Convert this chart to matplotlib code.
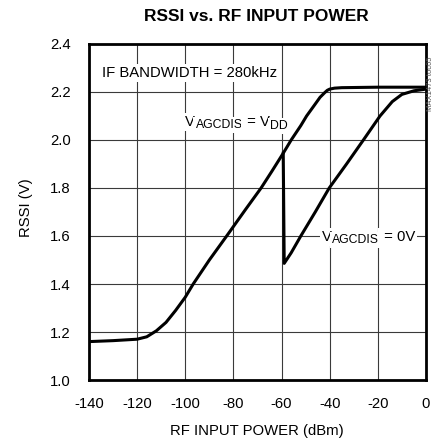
import matplotlib
matplotlib.use('Agg')
import matplotlib.pyplot as plt

# RSSI vs RF input power
# AGC disabled (VAGCDIS = VDD): one continuous curve
vdd_power = [-140, -130, -120, -116, -112, -108, -104, -100, -96.7, -90, -82.8,
             -75, -68.5, -64, -59.3, -56, -52, -49.6, -46, -44, -42, -41, -40, -38, -35, -20, 0]
vdd_rssi = [1.160, 1.164, 1.170, 1.180, 1.205, 1.240, 1.290, 1.345, 1.400, 1.500, 1.600,
            1.710, 1.800, 1.870, 1.945, 2.000, 2.060, 2.100, 2.150, 2.178, 2.198, 2.207, 2.212,
            2.216, 2.218, 2.220, 2.220]

# AGC enabled (VAGCDIS = 0V): follows the curve above up to -60dBm, then drops
agc_power = [-59.3, -58.9, -56, -52, -46, -40.2, -33, -26, -19.1, -14, -10, -5, 0]
agc_rssi = [1.945, 1.486, 1.530, 1.600, 1.700, 1.800, 1.900, 2.000, 2.100, 2.160, 2.190, 2.205, 2.212]

x_ticks = [-140, -120, -100, -80, -60, -40, -20, 0]
y_ticks = [1.0, 1.2, 1.4, 1.6, 1.8, 2.0, 2.2, 2.4]

FS = 10.7
SUB_FS = 8.8
DESC = 0.21  # approx. descent of Liberation Sans, in em

plt.rcParams['font.family'] = ['Liberation Sans', 'DejaVu Sans']

fig = plt.figure(figsize=(4.33, 4.43), dpi=100)
ax = fig.add_axes([0.2055, 0.1422, 0.7783, 0.7585])

ax.plot(vdd_power, vdd_rssi, color='black', lw=2.2, solid_joinstyle='round', zorder=3)
ax.plot(agc_power, agc_rssi, color='black', lw=2.2, solid_joinstyle='round', zorder=3)

ax.set_xlim(-140, 0)
ax.set_ylim(1.0, 2.4)
ax.set_xticks(x_ticks)
ax.set_yticks(y_ticks)
ax.set_xticklabels([str(t) for t in x_ticks])
ax.set_yticklabels([f'{t:.1f}' for t in y_ticks])
ax.tick_params(length=0, labelsize=FS, colors='black')
ax.tick_params(axis='x', pad=12)
ax.tick_params(axis='y', pad=13)
ax.grid(True, color='#3a3a3a', lw=0.8)
for s in ax.spines.values():
    s.set_linewidth(2.0)

ax.set_xlabel('RF INPUT POWER (dBm)', fontsize=FS)
ax.set_ylabel('RSSI (V)', fontsize=FS)
ax.xaxis.set_label_coords(0.4985, -0.131)
ax.yaxis.set_label_coords(-0.166, 0.512)

fig.text(0.593, 0.962, 'RSSI vs. RF INPUT POWER', ha='center', va='center',
         fontsize=12.5, fontweight='bold')

box = dict(fc='white', ec='none', pad=1.5)


def sub_label(x, y, parts):
    """Write text pieces one after the other; (string, True) is a subscript."""
    first, _ = parts[0]
    prev = ax.text(x, y, first, fontsize=FS, va='baseline', bbox=box, zorder=4)
    prev_fs, prev_shift = FS, 0.0
    for s, is_sub in parts[1:]:
        fs = SUB_FS if is_sub else FS
        shift = -1.7 if is_sub else 0.0
        # offset from previous piece's bottom edge to this piece's baseline
        dy = (shift - prev_shift) + DESC * prev_fs
        prev = ax.annotate(s, xy=(1, 0), xycoords=prev, xytext=(0.3, dy),
                           textcoords='offset points', fontsize=fs, va='baseline',
                           bbox=box, zorder=4)
        prev_fs, prev_shift = fs, shift


ax.text(-134.6, 2.261, 'IF BANDWIDTH = 280kHz', fontsize=FS, va='baseline',
        bbox=box, zorder=4)
sub_label(-100, 2.058, [('V', False), ('AGCDIS', True), (' = V', False), ('DD', True)])
sub_label(-43.2, 1.58, [('V', False), ('AGCDIS', True), (' = 0V', False)])

# chart id at the right edge
fig.text(0.986, 0.75, 'MAX1473 toc05', rotation=90, fontsize=5.5, color='#555555',
         ha='left', va='bottom')

fig.savefig('out.png', dpi=100)
